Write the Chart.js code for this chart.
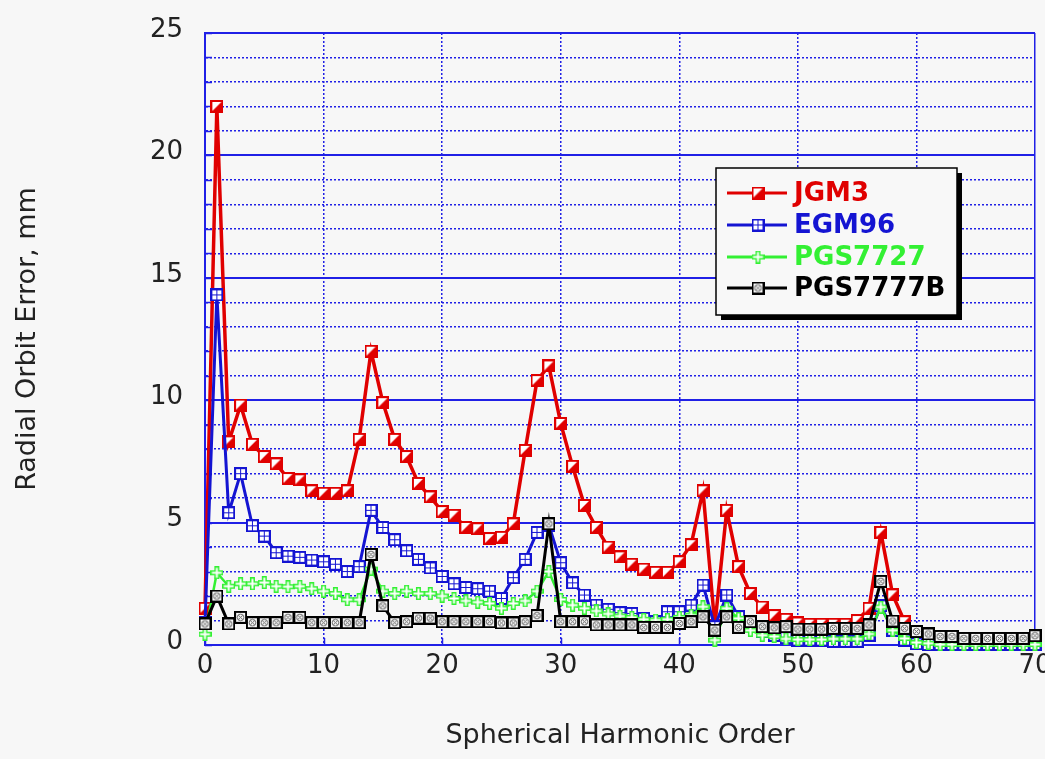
<!DOCTYPE html>
<html>
<head>
<meta charset="utf-8">
<title>Radial Orbit Error</title>
<script src="https://cdn.jsdelivr.net/npm/chart.js@4.4.1/dist/chart.umd.min.js"></script>
<style>
  html, body { margin: 0; padding: 0; background: #f7f7f7; }
  #orbitChart { display: block; }
</style>
</head>
<body>
<canvas id="orbitChart" width="1045" height="759"></canvas>
<script>
// ================= DATA =================
const orders = [
  0, 1, 2, 3, 4, 5, 6, 7, 8, 9,
  10, 11, 12, 13, 14, 15, 16, 17, 18, 19,
  20, 21, 22, 23, 24, 25, 26, 27, 28, 29,
  30, 31, 32, 33, 34, 35, 36, 37, 38, 39,
  40, 41, 42, 43, 44, 45, 46, 47, 48, 49,
  50, 51, 52, 53, 54, 55, 56, 57, 58, 59,
  60, 61, 62, 63, 64, 65, 66, 67, 68, 69, 70
];

const jgm3 = [
  1.5, 22.0, 8.3, 9.8, 8.2, 7.7, 7.4, 6.8, 6.75, 6.3,
  6.2, 6.2, 6.3, 8.4, 12.0, 9.9, 8.4, 7.7, 6.6, 6.05,
  5.45, 5.3, 4.8, 4.75, 4.35, 4.4, 4.95, 7.95, 10.8, 11.4,
  9.05, 7.3, 5.7, 4.8, 4.0, 3.6, 3.3, 3.1, 2.97, 2.97,
  3.4, 4.1, 6.3, 0.8, 5.5, 3.2, 2.1, 1.55, 1.2, 1.05,
  0.9, 0.85, 0.85, 0.85, 0.85, 1.0, 1.5, 4.6, 2.05, 0.95,
  0.55, 0.45, 0.35, 0.35, 0.27, 0.27, 0.27, 0.27, 0.27, 0.27, 0.38
];

const egm96 = [
  0.9, 14.3, 5.4, 7.0, 4.87, 4.45, 3.77, 3.63, 3.58, 3.47,
  3.4, 3.3, 3.0, 3.2, 5.5, 4.8, 4.3, 3.85, 3.5, 3.15,
  2.8, 2.5, 2.35, 2.3, 2.2, 1.9, 2.75, 3.5, 4.6, 4.9,
  3.36, 2.54, 2.04, 1.63, 1.46, 1.32, 1.29, 1.09, 0.95, 1.36,
  1.36, 1.63, 2.45, 0.75, 2.04, 1.16, 0.8, 0.55, 0.4, 0.3,
  0.2, 0.2, 0.2, 0.15, 0.15, 0.15, 0.4, 1.6, 0.6, 0.2,
  0.05, 0.02, 0.02, 0.02, 0.02, 0.02, 0.02, 0.02, 0.02, 0.02, 0.02
];

const pgs7727 = [
  0.44, 2.95, 2.4, 2.5, 2.5, 2.55, 2.4, 2.38, 2.4, 2.3,
  2.2, 2.1, 1.85, 1.85, 3.1, 2.2, 2.1, 2.2, 2.1, 2.1,
  2.0, 1.9, 1.8, 1.75, 1.7, 1.5, 1.7, 1.8, 2.2, 3.0,
  1.86, 1.63, 1.5, 1.39, 1.27, 1.18, 1.13, 1.05, 1.02, 1.05,
  1.13, 1.22, 1.56, 0.2, 1.5, 1.09, 0.6, 0.4, 0.35, 0.25,
  0.22, 0.22, 0.22, 0.25, 0.25, 0.25, 0.45, 1.55, 0.6, 0.27,
  0.1, 0.07, 0.02, 0.02, 0.02, 0.02, 0.02, 0.02, 0.02, 0.02, 0.02
];

const pgs7777b = [
  0.86, 2.0, 0.86, 1.13, 0.91, 0.91, 0.91, 1.13, 1.13, 0.91,
  0.91, 0.91, 0.91, 0.91, 3.7, 1.6, 0.91, 0.95, 1.1, 1.1,
  0.95, 0.95, 0.95, 0.95, 0.95, 0.9, 0.9, 0.95, 1.2, 4.95,
  0.95, 0.95, 0.95, 0.82, 0.82, 0.82, 0.82, 0.72, 0.72, 0.72,
  0.88, 0.95, 1.15, 0.61, 1.15, 0.72, 0.95, 0.75, 0.7, 0.75,
  0.65, 0.65, 0.65, 0.68, 0.68, 0.68, 0.82, 2.6, 0.98, 0.68,
  0.55, 0.45, 0.35, 0.35, 0.27, 0.27, 0.27, 0.27, 0.27, 0.27, 0.38
];

const seriesNames = ["JGM3", "EGM96", "PGS7727", "PGS7777B"];

// ================= COLORS =================
const RED = "#e00000";
const BLUE = "#1414d2";
const GREEN = "#33f033";
const BLACK = "#000000";
const GRID = "#2020e6";
const TEXT = "#222222";
const FONT = "'DejaVu Sans', sans-serif";

// ================= MARKERS =================
function makeMarker(kind) {
  const c = document.createElement("canvas");
  c.width = 13;
  c.height = 13;
  const g = c.getContext("2d");

  if (kind === "jgm3") {
    g.fillStyle = RED;
    g.fillRect(0, 0, 13, 13);
    g.fillStyle = "#ffffff";
    g.beginPath();
    g.moveTo(2, 2);
    g.lineTo(11, 2);
    g.lineTo(2, 11);
    g.closePath();
    g.fill();
  } else if (kind === "egm96") {
    g.fillStyle = BLUE;
    g.fillRect(0, 0, 13, 13);
    g.fillStyle = "#ffffff";
    g.fillRect(2, 2, 4, 4);
    g.fillRect(7, 2, 4, 4);
    g.fillRect(2, 7, 4, 4);
    g.fillRect(7, 7, 4, 4);
  } else if (kind === "pgs7727") {
    g.fillStyle = GREEN;
    g.fillRect(4, 0, 5, 13);
    g.fillRect(0, 4, 13, 5);
    g.fillStyle = "#ffffff";
    g.fillRect(5.5, 1.5, 2, 10);
    g.fillRect(1.5, 5.5, 10, 2);
  } else {
    g.fillStyle = BLACK;
    g.fillRect(0, 0, 13, 13);
    g.fillStyle = "#fafafa";
    g.fillRect(2, 2, 9, 9);
    g.strokeStyle = "#666";
    g.lineWidth = 1;
    g.beginPath();
    g.arc(6.5, 6.5, 3.3, 0, Math.PI * 2);
    g.stroke();
    g.beginPath();
    g.moveTo(4.2, 4.2); g.lineTo(8.8, 8.8);
    g.moveTo(8.8, 4.2); g.lineTo(4.2, 8.8);
    g.stroke();
  }
  return c;
}

const MARKERS = {
  jgm3: makeMarker("jgm3"),
  egm96: makeMarker("egm96"),
  pgs7727: makeMarker("pgs7727"),
  pgs7777b: makeMarker("pgs7777b")
};

// ================= PLUGINS =================
// short solid tick marks pointing into the plot area
const innerTicks = {
  id: "innerTicks",
  beforeDatasetsDraw(chart) {
    const { ctx, chartArea, scales } = chart;
    ctx.save();
    ctx.strokeStyle = GRID;
    ctx.lineWidth = 1.5;
    ctx.beginPath();
    scales.y.ticks.forEach(t => {
      const py = Math.round(scales.y.getPixelForValue(t.value)) + 0.5;
      ctx.moveTo(chartArea.left, py);
      ctx.lineTo(chartArea.left + 7, py);
    });
    scales.x.ticks.forEach(t => {
      const px = Math.round(scales.x.getPixelForValue(t.value)) + 0.5;
      ctx.moveTo(px, chartArea.bottom);
      ctx.lineTo(px, chartArea.bottom - 7);
    });
    ctx.stroke();
    ctx.restore();
  }
};

// boxed legend with drop shadow
const boxLegend = {
  id: "boxLegend",
  afterDraw(chart) {
    const { ctx } = chart;
    const left = 716, top = 168, w = 241, h = 147;
    ctx.save();
    ctx.fillStyle = "#000";
    ctx.fillRect(left + 5, top + 5, w, h);
    ctx.fillStyle = "#f8f8f8";
    ctx.fillRect(left, top, w, h);
    ctx.strokeStyle = "#000";
    ctx.lineWidth = 1.5;
    ctx.strokeRect(left, top, w, h);

    const rows = [193, 225, 257, 288];
    chart.data.datasets.forEach((ds, i) => {
      const y = rows[i];
      ctx.strokeStyle = ds.borderColor;
      ctx.lineWidth = 3;
      ctx.beginPath();
      ctx.moveTo(727, y);
      ctx.lineTo(787, y);
      ctx.stroke();
      const m = ds.pointStyle;
      ctx.drawImage(m, 758 - m.width / 2, y - m.height / 2);
      ctx.fillStyle = ds.borderColor;
      ctx.font = "bold 26px " + FONT;
      ctx.textBaseline = "middle";
      ctx.textAlign = "left";
      ctx.fillText(ds.label, 794, y + 1);
    });
    ctx.restore();
  }
};

// ================= CHART =================
const ctx = document.getElementById("orbitChart");

const orbitChart = new Chart(ctx, {
  type: "line",
  data: {
    labels: orders,
    datasets: [
      { label: seriesNames[0], data: jgm3, borderColor: RED, borderWidth: 3.5,
        pointStyle: MARKERS.jgm3, order: 4, clip: false },
      { label: seriesNames[1], data: egm96, borderColor: BLUE, borderWidth: 3,
        pointStyle: MARKERS.egm96, order: 3, clip: false },
      { label: seriesNames[2], data: pgs7727, borderColor: GREEN, borderWidth: 2.5,
        pointStyle: MARKERS.pgs7727, order: 2, clip: false },
      { label: seriesNames[3], data: pgs7777b, borderColor: BLACK, borderWidth: 3,
        pointStyle: MARKERS.pgs7777b, order: 1, clip: false }
    ]
  },
  options: {
    responsive: false,
    animation: false,
    events: [],
    layout: { padding: { top: 33, right: 10, bottom: 0, left: 0 } },
    elements: { line: { tension: 0, fill: false } },
    plugins: {
      legend: { display: false },
      tooltip: { enabled: false }
    },
    scales: {
      x: {
        type: "linear",
        min: 0,
        max: 70,
        afterFit(scale) {
          scale.height = 114;
          scale.paddingLeft = 0;
          scale.paddingRight = 0;
        },
        ticks: {
          stepSize: 10,
          color: TEXT,
          padding: 6,
          font: { family: FONT, size: 26 }
        },
        grid: { color: GRID, lineWidth: 1.5, drawTicks: false },
        border: {
          color: GRID,
          width: 2,
          dash: c => (c.tick && c.tick.value > 0 && c.tick.value < 70 ? [2, 2] : [])
        },
        title: {
          display: true,
          text: "Spherical Harmonic Order",
          color: TEXT,
          font: { family: FONT, size: 27 },
          padding: { top: 0, bottom: 7 }
        }
      },
      y: {
        min: 0,
        max: 25,
        afterFit(scale) {
          scale.width = 205;
          scale.paddingTop = 0;
          scale.paddingBottom = 0;
        },
        ticks: {
          stepSize: 1,
          autoSkip: false,
          color: TEXT,
          padding: 22,
          labelOffset: -3,
          font: { family: FONT, size: 26 },
          callback: v => (v % 5 === 0 ? v : "")
        },
        grid: {
          color: GRID,
          lineWidth: c => (c.tick && c.tick.value % 5 === 0 ? 2 : 1.5),
          drawTicks: false
        },
        border: {
          color: GRID,
          width: 2,
          dash: c => (c.tick && c.tick.value % 5 !== 0 ? [2, 2] : [])
        },
        title: {
          display: true,
          text: "Radial Orbit Error, mm",
          color: TEXT,
          font: { family: FONT, size: 27 },
          padding: { top: 12, bottom: 0 }
        }
      }
    }
  },
  plugins: [innerTicks, boxLegend]
});
</script>
</body>
</html>
